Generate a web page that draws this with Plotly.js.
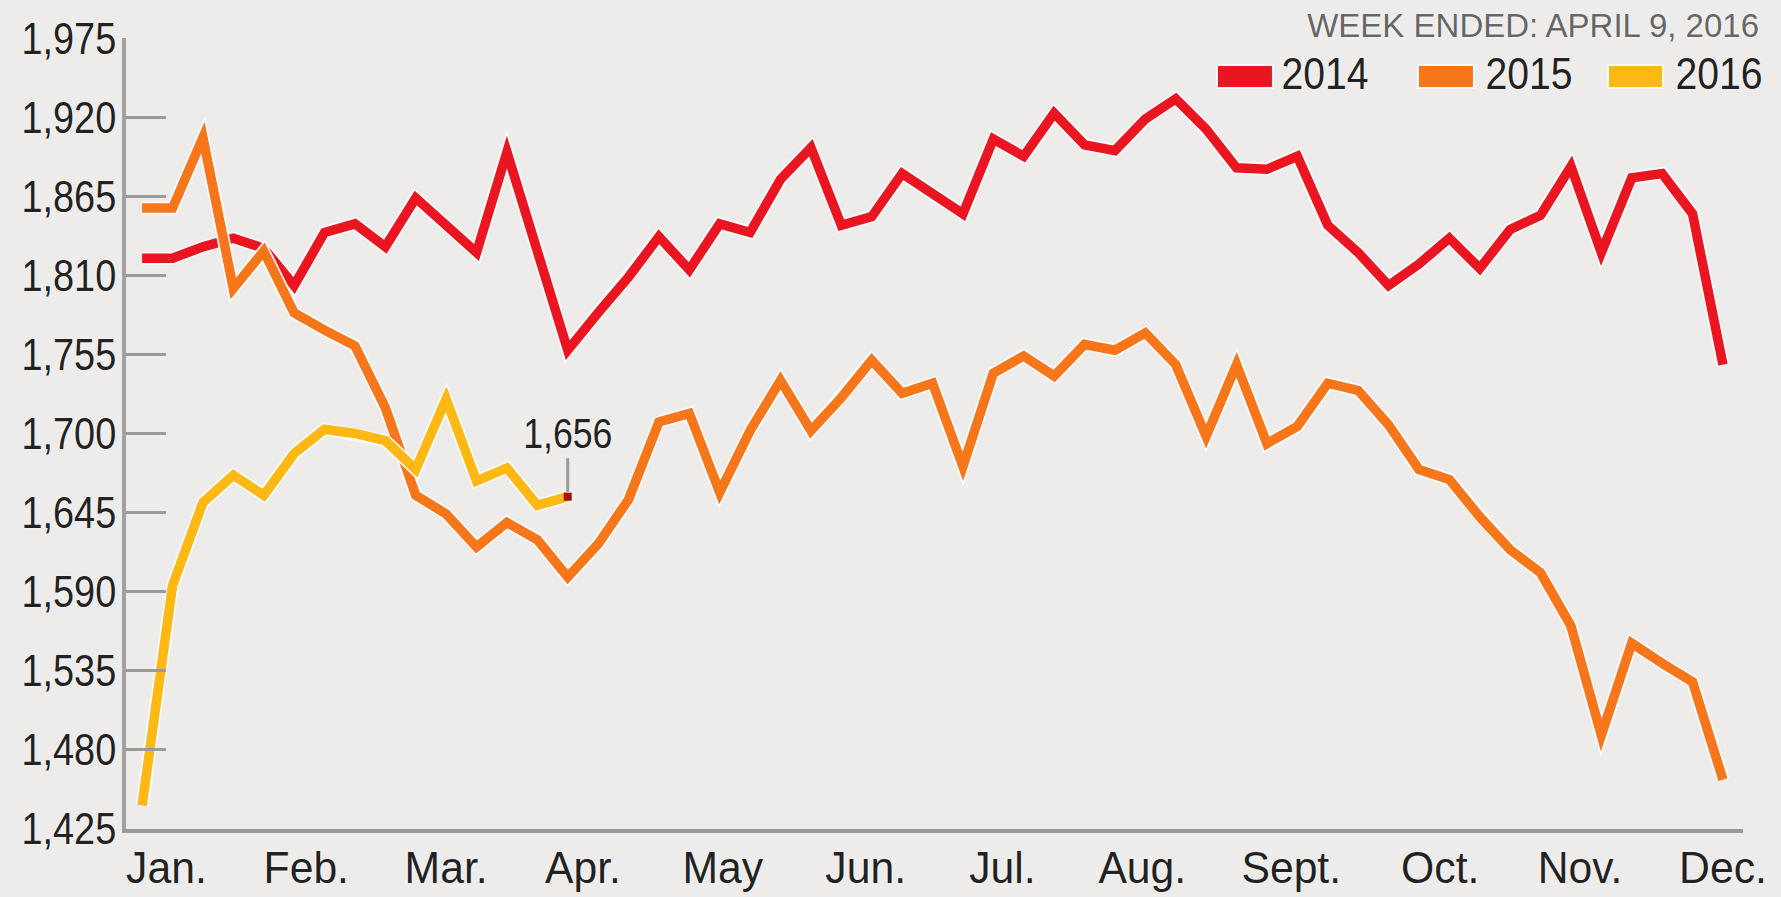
<!DOCTYPE html>
<html>
<head>
<meta charset="utf-8">
<script src="https://cdn.plot.ly/plotly-3.0.1.min.js"></script>
<style>
  html, body { margin: 0; padding: 0; background: #EEECEA; }
  #chart { width: 1781px; height: 897px; }
  #chart path.js-line { stroke-linejoin: miter !important; stroke-miterlimit: 12 !important; }
</style>
</head>
<body>
<div id="chart"></div>
<script>
// ---- data ----
const seriesNames = ['2014', '2015', '2016'];
const values2014 = [1822, 1822, 1830, 1836, 1829, 1803, 1840, 1846, 1830, 1864,
                    1845, 1826, 1896, 1827, 1758, 1784, 1809, 1837, 1814, 1846,
                    1840, 1877, 1899, 1845, 1851, 1881, 1867, 1853, 1905, 1893,
                    1923, 1901, 1897, 1919, 1933, 1912, 1885, 1884, 1893, 1845,
                    1826, 1803, 1818, 1836, 1815, 1842, 1852, 1886, 1826, 1878,
                    1881, 1853, 1748];
const values2015 = [1857, 1857, 1906, 1801, 1827, 1784, 1772, 1761, 1718, 1657,
                    1644, 1621, 1638, 1626, 1600, 1623, 1654, 1708, 1714, 1659,
                    1702, 1737, 1702, 1725, 1751, 1728, 1735, 1677, 1742, 1754,
                    1740, 1762, 1758, 1770, 1748, 1698, 1748, 1693, 1705, 1735,
                    1730, 1706, 1675, 1668, 1642, 1619, 1603, 1566, 1490, 1554,
                    1540, 1527, 1459];
const values2016 = [1441, 1594, 1652, 1671, 1657, 1686, 1703, 1700, 1695, 1675,
                    1724, 1667, 1676, 1650, 1656];
const monthLabels = ['Jan.', 'Feb.', 'Mar.', 'Apr.', 'May', 'Jun.', 'Jul.', 'Aug.',
                     'Sept.', 'Oct.', 'Nov.', 'Dec.'];
const monthTickWeeks = [1.8, 6.4, 11.0, 15.5, 20.1, 24.8, 29.3, 33.9, 38.8, 43.7, 48.3, 53.0];
const yTickValues = [1425, 1480, 1535, 1590, 1645, 1700, 1755, 1810, 1865, 1920, 1975];
const lastValueLabel = '1,656';
const titleText = 'WEEK ENDED: APRIL 9, 2016';

// ---- styles ----
const colors = ['#EB1522', '#F7761A', '#FDB813'];
const haloColor = 'rgba(247,252,252,0.95)';
const FONT = '"Liberation Sans", Arial, sans-serif';
const GLOW = '0 0 2px #ffffff, 0 0 1px #ffffff';
const seriesValues = [values2014, values2015, values2016];

const weeksOf = arr => arr.map((_, i) => i + 1);

const traces = [];
seriesValues.forEach((vals, k) => {
  traces.push({
    x: weeksOf(vals), y: vals, type: 'scatter', mode: 'lines',
    line: { color: haloColor, width: 13 }, hoverinfo: 'skip', showlegend: false
  });
  traces.push({
    x: weeksOf(vals), y: vals, type: 'scatter', mode: 'lines', name: seriesNames[k],
    line: { color: colors[k], width: 9.5 }, showlegend: false
  });
});
// last-value marker for 2016
const lastIdx = values2016.length - 1;
traces.push({
  x: [lastIdx + 1], y: [values2016[lastIdx]], type: 'scatter', mode: 'markers',
  marker: { symbol: 'square', size: 8, color: '#9E1510' }, hoverinfo: 'skip', showlegend: false
});

// manual legend (paper coords)
const legendItems = [
  { x0: 0.6747, x1: 0.7093, tx: 0.7415 },
  { x0: 0.7990, x1: 0.8336, tx: 0.8677 },
  { x0: 0.9165, x1: 0.9505, tx: 0.9852 }
];
const shapes = legendItems.map((it, k) => ({
  type: 'rect', xref: 'paper', yref: 'paper', x0: it.x0, x1: it.x1, y0: 0.9368, y1: 0.9659,
  fillcolor: colors[k], line: { color: haloColor, width: 2 }
}));
const annotations = legendItems.map((it, k) => ({
  xref: 'paper', yref: 'paper', x: it.tx, y: 0.9551, xanchor: 'center', yanchor: 'middle',
  text: seriesNames[k], showarrow: false,
  font: { family: FONT, size: 45, color: '#222', shadow: GLOW }
}));
annotations.push({
  x: lastIdx + 1, y: values2016[lastIdx], xref: 'x', yref: 'y',
  text: lastValueLabel, showarrow: true, arrowhead: 0, arrowwidth: 3, arrowcolor: '#9a9a9a',
  ax: 0, ay: -64, standoff: 5, font: { family: FONT, size: 43, color: '#222', shadow: GLOW }
});

const layout = {
  width: 1781, height: 897,
  paper_bgcolor: '#EEECEA', plot_bgcolor: '#EEECEA',
  margin: { l: 126, r: 38, t: 38, b: 68, pad: 0 },
  showlegend: false,
  title: {
    text: titleText, xref: 'container', yref: 'container',
    x: 1759 / 1781, xanchor: 'right', y: 1 - 25 / 897, yanchor: 'middle',
    font: { family: FONT, size: 33, color: '#666', shadow: GLOW }
  },
  xaxis: {
    range: [0.47, 53.66], tickmode: 'array', tickvals: monthTickWeeks, ticktext: monthLabels,
    ticks: '', showgrid: false, zeroline: false,
    showline: true, linecolor: '#999', linewidth: 4,
    tickfont: { family: FONT, size: 44, color: '#222', shadow: GLOW }, ticklabelstandoff: -3
  },
  yaxis: {
    range: [1424.6, 1975.4], tickmode: 'array', tickvals: yTickValues, tickformat: ',d',
    ticks: 'inside', ticklen: 40, tickwidth: 3, tickcolor: '#9a9a9a',
    showgrid: false, zeroline: false,
    showline: true, linecolor: '#a0a0a0', linewidth: 4,
    tickfont: { family: FONT, size: 44, color: '#222', shadow: GLOW }, ticklabelstandoff: -3
  },
  shapes: shapes,
  annotations: annotations
};

// condense text horizontally (the original uses a condensed typeface)
function squeeze(nodes, f) {
  nodes.forEach(t => {
    const w = t.getComputedTextLength();
    if (w > 0) {
      t.setAttribute('textLength', (w * f).toFixed(1));
      t.setAttribute('lengthAdjust', 'spacingAndGlyphs');
    }
  });
}

Plotly.newPlot('chart', traces, layout, { displayModeBar: false, staticPlot: true }).then(gd => {
  squeeze(gd.querySelectorAll('.ytick text'), 0.86);
  squeeze(gd.querySelectorAll('.xtick text'), 0.97);
  const ann = gd.querySelectorAll('.annotation-text');
  squeeze(Array.from(ann).slice(0, 3), 0.87);
  squeeze(Array.from(ann).slice(3), 0.83);
});
</script>
</body>
</html>
